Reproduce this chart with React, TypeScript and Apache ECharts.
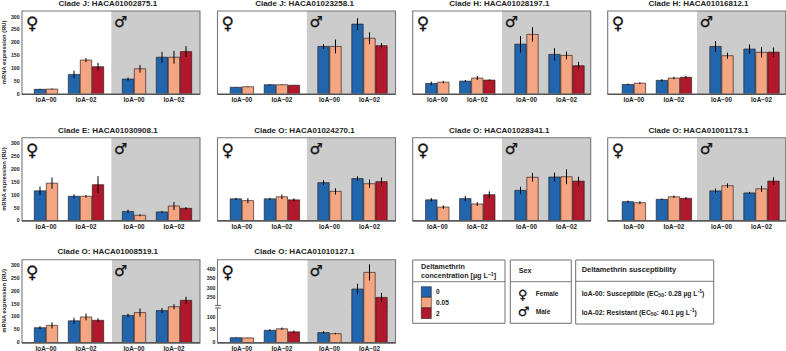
import React, { useEffect, useRef } from "react";
import * as echarts from "echarts";

const geneTitles = [
  "Clade J: HACA01002875.1", "Clade J: HACA01023258.1", "Clade H: HACA01028197.1", "Clade H: HACA01016812.1",
  "Clade E: HACA01030908.1", "Clade O: HACA01024270.1", "Clade O: HACA01028341.1", "Clade O: HACA01001173.1",
  "Clade O: HACA01008519.1", "Clade O: HACA01010127.1",
];
const strains = ["IoA\u221200", "IoA\u221202"];
const yTicksLabelTitle = "mRNA expression (RU)";
const concentrationLabels = ["0", "0.05", "2"];

// each gene: [female IoA-00], [female IoA-02], [male IoA-00], [male IoA-02]
const means875 = [[17, 18], [75, 131, 105], [57, 97], [142, 142, 164]];
const errs875 = [[2, 2], [15, 8, 15], [6, 15], [21, 25, 21]];
const means258 = [[25, 27], [35, 35, 33], [184, 184], [271, 216, 187]];
const errs258 = [[1, 1], [2, 1, 1], [9, 27], [23, 23, 10]];
const means197 = [[40, 45], [49, 61, 53], [193, 231], [153, 149, 109]];
const errs197 = [[7, 5], [4, 8, 3], [32, 28], [24, 15, 15]];
const means812 = [[36, 41], [52, 61, 64], [184, 148], [174, 161, 162]];
const errs812 = [[3, 3], [5, 5, 5], [21, 12], [18, 20, 18]];
const means908 = [[115, 145], [94, 94, 139], [35, 20], [33, 56, 47]];
const errs908 = [[17, 22], [8, 5, 33], [7, 4], [4, 16, 5]];
const means270 = [[84, 77], [84, 92, 80], [147, 113], [163, 143, 151]];
const errs270 = [[4, 10], [4, 9, 6], [9, 12], [9, 16, 16]];
const means341 = [[80, 52], [85, 64, 100], [117, 168], [169, 170, 153]];
const errs341 = [[7, 7], [11, 7, 13], [14, 17], [17, 29, 17]];
const means173 = [[73, 69], [82, 92, 86], [115, 135], [107, 123, 153]];
const errs173 = [[4, 6], [3, 5, 5], [9, 9], [4, 12, 15]];
const means519 = [[56, 65], [83, 98, 85], [104, 115], [123, 138, 163]];
const errs519 = [[6, 12], [12, 13, 8], [7, 16], [10, 10, 14]];
const means127 = [[17, 16], [46, 52, 40], [37, 33], [293, 382, 248]];
const errs127 = [[1, 1], [4, 5, 5], [5, 3], [28, 43, 24]];

const allMeans = [means875, means258, means197, means812, means908, means270, means341, means173, means519, means127];
const allErrs = [errs875, errs258, errs197, errs812, errs908, errs270, errs341, errs173, errs519, errs127];

const COLORS = ["#2166ac", "#f4a582", "#b2182b"];
const FONT = "'Liberation Sans', Arial, sans-serif";
const SYMBOL_FONT = "'DejaVu Sans', sans-serif";
const colX = [22, 217.5, 412.7, 607.7];
const rowTop = [11, 137.7, 259.7];
const titleCx = [107.8, 304.5, 499.3, 698.5];
const titleCy = [3, 130, 251.7];
const colShift = [[0, 0], [0.4, 0], [0.6, 1.8], [2.2, 1.8]];
const PW = 178;
const PH = 82.7;
const BAR_STEP = 12;
const BAR_W = 11.4;
const EDGE = "rgba(30,20,20,0.62)";

function barRenderer(yMin: number, yMax: number) {
  return (_p: any, api: any) => {
    const cat = api.value(0);
    const slot = api.value(1);
    const v = api.value(2);
    const err = api.value(3);
    const n = api.value(4);
    const children: any[] = [];
    if (v < yMin) return { type: "group", children };
    const clipped = v > yMax;
    const top = api.coord([cat, Math.min(v, yMax)]);
    const base = api.coord([cat, yMin]);
    const cx = top[0] + (slot - (n - 1) / 2) * BAR_STEP;
    const l = cx - BAR_W / 2;
    const r = cx + BAR_W / 2;
    children.push({
      type: "rect",
      shape: { x: l, y: top[1], width: BAR_W, height: base[1] - top[1] },
      style: { fill: COLORS[slot], stroke: "none" },
    });
    const edgeStyle = { stroke: EDGE, lineWidth: 1, fill: "none" };
    if (clipped) {
      children.push({ type: "line", shape: { x1: l, y1: top[1], x2: l, y2: base[1] }, style: edgeStyle });
      children.push({ type: "line", shape: { x1: r, y1: top[1], x2: r, y2: base[1] }, style: edgeStyle });
    } else {
      children.push({
        type: "polyline",
        shape: { points: [[l, base[1]], [l, top[1]], [r, top[1]], [r, base[1]]] },
        style: edgeStyle,
      });
    }
    const hi = api.coord([cat, Math.max(yMin, Math.min(v + err, yMax))]);
    const lo = api.coord([cat, Math.max(yMin, Math.min(v - err, yMax))]);
    if (v + err >= yMin && v - err <= yMax) {
      children.push({
        type: "line",
        shape: { x1: cx, y1: hi[1], x2: cx, y2: lo[1] },
        style: { stroke: "#000", lineWidth: 1 },
      });
    }
    return { type: "group", children };
  };
}

function buildOption() {
  const grid: any[] = [];
  const xAxis: any[] = [];
  const yAxis: any[] = [];
  const series: any[] = [];
  const title: any[] = [];
  const graphicEls: any[] = [];

  const addGrid = (
    left: number, top: number, height: number, showX: boolean, showY: boolean,
    yMin: number, yMax: number, rows: number[][], yName: string,
  ) => {
    const idx = grid.length;
    grid.push({ left, top, width: 80, height, show: false, containLabel: false });
    xAxis.push({
      type: "category", gridIndex: idx, data: strains, show: showX,
      axisLine: { show: false }, axisTick: { show: false },
      axisLabel: { show: showX, fontFamily: FONT, fontSize: 6.3, fontWeight: "bold", color: "#222", margin: 3, interval: 0, hideOverlap: false },
    });
    yAxis.push({
      type: "value", gridIndex: idx, min: yMin, max: yMax, interval: 50, show: showY,
      axisLine: { show: false }, axisTick: { show: false }, splitLine: { show: false },
      name: yName, nameLocation: "middle", nameRotate: 90, nameGap: 17.5,
      nameTextStyle: { fontFamily: FONT, fontSize: 5.8, fontWeight: "bold", color: "#222" },
      axisLabel: {
        show: showY, fontFamily: FONT, fontSize: 5.2, fontWeight: "bold", color: "#222", margin: 6.4,
        showMaxLabel: false, showMinLabel: yMin === 0,
      },
    });
    series.push({
      type: "custom", xAxisIndex: idx, yAxisIndex: idx, coordinateSystem: "cartesian2d", silent: true, clip: false,
      renderItem: barRenderer(yMin, yMax), data: rows, encode: { x: 0, y: 2 }, z: 3,
    });
  };

  geneTitles.forEach((name, i) => {
    const col = i % 4;
    const row = Math.floor(i / 4);
    const px = colX[col];
    const top = rowTop[row];
    const means = allMeans[i];
    const errs = allErrs[i];
    title.push({
      text: name, left: titleCx[col], top: titleCy[row], textAlign: "center", textVerticalAlign: "middle", padding: 0,
      textStyle: { fontFamily: FONT, fontSize: 8, fontWeight: "bold", color: "#222" },
    });
    const grayX = px + (row === 2 ? 90 : 89.3);
    graphicEls.push({
      type: "rect", z: 1, silent: true,
      shape: { x: grayX, y: top, width: px + PW - grayX, height: PH },
      style: { fill: "#cccccc" },
    });
    graphicEls.push({
      type: "rect", z: 10, silent: true,
      shape: { x: px, y: top, width: PW, height: PH + 0.5 },
      style: { fill: "none", stroke: "#777777", lineWidth: 1.1 },
    });
    graphicEls.push({
      type: "line", z: 10, silent: true,
      shape: { x1: px, y1: top + PH + 0.5, x2: px + PW, y2: top + PH + 0.5 },
      style: { stroke: "#333", lineWidth: 1 },
    });
    [0, 1].forEach((sex) => {
      const rows: number[][] = [];
      [0, 1].forEach((strain) => {
        const m = means[sex * 2 + strain];
        const e = errs[sex * 2 + strain];
        m.forEach((v, slot) => rows.push([strain, slot, v, e[slot], m.length]));
      });
      const left = px + (sex === 0 ? 4 : 92) + colShift[col][sex];
      const showY = sex === 0 && col === 0 || (sex === 0 && i === 9);
      if (i === 9) {
        addGrid(left, top + PH - 36.5, 36.5, true, sex === 0, 0, 142, rows, "");
        addGrid(left, top, 46.7, false, sex === 0, 200, 450, rows, "");
      } else {
        addGrid(left, top, PH, true, showY, 0, 322, rows, showY ? yTicksLabelTitle : "");
      }
    });
    graphicEls.push({
      type: "text", z: 12, silent: true, x: px + 10.2, y: top + 12.2,
      style: { text: "\u2640", fontFamily: SYMBOL_FONT, fontSize: 17, fill: "#111", stroke: "#111", lineWidth: 0.3, align: "center", verticalAlign: "middle" },
    });
    graphicEls.push({
      type: "text", z: 12, silent: true, x: px + 98.8, y: top + 11,
      style: { text: "\u2642", fontFamily: SYMBOL_FONT, fontSize: 15, fill: "#111", stroke: "#111", lineWidth: 0.3, align: "center", verticalAlign: "middle" },
    });
  });

  // break mark on the last panel
  [305.4, 308].forEach((y) => {
    graphicEls.push({ type: "line", z: 12, silent: true, shape: { x1: 215, y1: y, x2: 221, y2: y }, style: { stroke: "#555", lineWidth: 0.9 } });
  });
  graphicEls.push({ type: "rect", z: 11, silent: true, shape: { x: 215, y: 305.9, width: 6, height: 1.8 }, style: { fill: "#fff" } });

  const box = (x: number, y: number, w: number, h: number, divY: number) => {
    graphicEls.push({ type: "rect", z: 5, silent: true, shape: { x, y, width: w, height: h }, style: { fill: "#fff", stroke: "#707070", lineWidth: 1 } });
    graphicEls.push({ type: "line", z: 6, silent: true, shape: { x1: x, y1: divY, x2: x + w, y2: divY }, style: { stroke: "#555", lineWidth: 0.8 } });
  };
  const label = (text: string, x: number, y: number, size = 6, extra: any = {}) => {
    graphicEls.push({
      type: "text", z: 7, silent: true, x, y,
      style: { text, fontFamily: FONT, fontSize: size, fontWeight: "bold", fill: "#222", align: "left", verticalAlign: "middle", ...extra },
    });
  };
  const richStyles = {
    sup: { fontSize: 5.2, fontWeight: "bold", fontFamily: FONT, fill: "#222", verticalAlign: "top", lineHeight: 9, padding: [0, 0, 3, 0] },
    sub: { fontSize: 5.2, fontWeight: "bold", fontFamily: FONT, fill: "#222", verticalAlign: "bottom", lineHeight: 9, padding: [3, 0, 0, 0] },
  };

  box(412.7, 260, 92.3, 63.3, 281.7);
  label("Deltamethrin", 421, 266.5, 7.2);
  label("concentration [\u00b5g L{sup|\u22121}]", 421, 275.8, 7.2, { rich: richStyles });
  concentrationLabels.forEach((t, k) => {
    graphicEls.push({
      type: "rect", z: 7, silent: true,
      shape: { x: 421.3, y: 286.7 + k * 10.6, width: 10, height: 10.6 },
      style: { fill: COLORS[k], stroke: EDGE, lineWidth: 0.9 },
    });
    label(t, 436, 291.5 + k * 10.8, 6.6);
  });

  box(510.3, 260, 61, 63.3, 281.7);
  label("Sex", 518.7, 270.7, 7.2);
  label("Female", 535.7, 293.3, 6.6);
  label("Male", 535.7, 311.3, 6.6);
  graphicEls.push({ type: "text", z: 7, silent: true, x: 522.7, y: 294.5, style: { text: "\u2640", fontFamily: SYMBOL_FONT, fontSize: 13, fill: "#111", stroke: "#111", lineWidth: 0.25, align: "center", verticalAlign: "middle" } });
  graphicEls.push({ type: "text", z: 7, silent: true, x: 523.7, y: 311.5, style: { text: "\u2642", fontFamily: SYMBOL_FONT, fontSize: 13, fill: "#111", stroke: "#111", lineWidth: 0.25, align: "center", verticalAlign: "middle" } });

  box(575.7, 260, 138, 64, 281.3);
  label("Deltamethrin susceptibility", 581.7, 269.8, 7.4);
  label("IoA-00: Susceptible (EC{sub|50}: 0.28 \u00b5g L{sup|-1})", 581.7, 293.3, 6.8, { rich: richStyles });
  label("IoA-02: Resistant (EC{sub|50}: 40.1 \u00b5g L{sup|-1})", 581.7, 312, 6.8, { rich: richStyles });

  return {
    animation: false,
    backgroundColor: "#fff",
    title, grid, xAxis, yAxis, series,
    graphic: { elements: graphicEls },
  };
}

export default function App() {
  const ref = useRef<HTMLDivElement>(null);
  useEffect(() => {
    document.body.style.margin = "0";
    const chart = echarts.init(ref.current!, undefined, { renderer: "svg" });
    chart.setOption(buildOption() as any);
    return () => chart.dispose();
  }, []);
  return <div ref={ref} style={{ position: "absolute", left: 0, top: 0, width: 786, height: 351 }} />;
}
